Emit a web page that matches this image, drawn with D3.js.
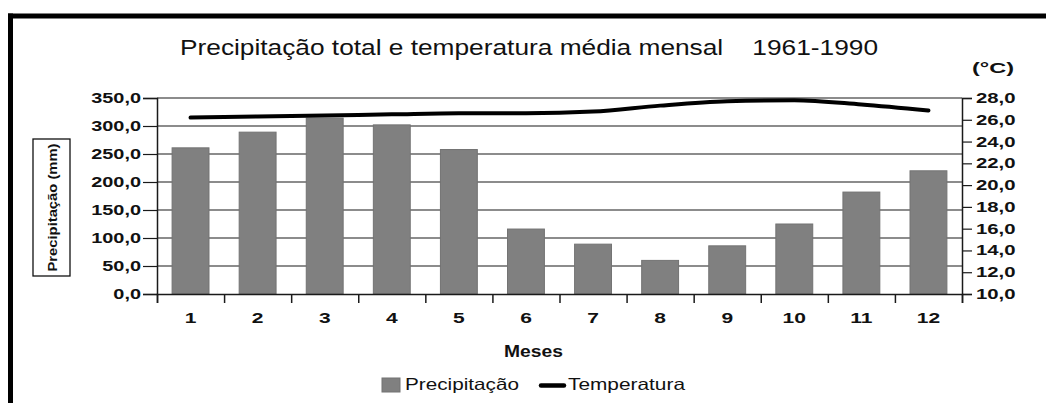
<!DOCTYPE html>
<html><head><meta charset="utf-8">
<script src="https://cdn.jsdelivr.net/npm/d3@7"></script>
<style>
html,body{margin:0;padding:0;background:#fff;}
svg{display:block;font-family:"Liberation Sans",Arial,sans-serif;}
</style></head>
<body><svg id="chart" width="1046" height="403"></svg>
<script>
const months = [1,2,3,4,5,6,7,8,9,10,11,12];
const precipitacao = [261, 289, 314, 302, 258, 116, 89, 60, 86, 125, 182, 220];
const temperatura = [26.2, 26.3, 26.4, 26.5, 26.6, 26.6, 26.75, 27.3, 27.7, 27.8, 27.4, 26.85];
const precTicks = [0,50,100,150,200,250,300,350];
const tempTicks = [10,12,14,16,18,20,22,24,26,28];
const titleText = "Precipitação total e temperatura média mensal\u00a0\u00a0\u00a0\u00a01961-1990";

const svg = d3.select("#chart");
const L = 157, R = 962, T = 98, B = 294;
const FF = "'Liberation Sans', Arial, sans-serif";

const x = d3.scaleBand().domain(months).range([L, R]).paddingInner(0.45).paddingOuter(0.225);
const xb = d3.scaleLinear().domain([0, 12]).range([L, R]);
const yP = d3.scaleLinear().domain([0, 350]).range([B, T]);
const yT = d3.scaleLinear().domain([10, 28]).range([B, T]);
const fmt = v => d3.format(".1f")(v).replace(".", ",");

function stretch(sel, f) {
  sel.each(function(){ const w = this.getComputedTextLength(); this.setAttribute("textLength", w * f); this.setAttribute("lengthAdjust", "spacingAndGlyphs"); });
}

// frame
svg.append("line").attr("x1", 8).attr("x2", 1046).attr("y1", 16).attr("y2", 16).attr("stroke", "#000").attr("stroke-width", 5);
svg.append("line").attr("x1", 10.5).attr("x2", 10.5).attr("y1", 13.5).attr("y2", 403).attr("stroke", "#000").attr("stroke-width", 5);

// title
svg.append("text").attr("x", 180).attr("y", 55).attr("font-size", 22).attr("fill", "#111").attr("font-family", FF)
  .attr("textLength", 698).attr("lengthAdjust", "spacingAndGlyphs").text(titleText);

// gridlines
svg.append("g").selectAll("line").data(precTicks.filter(d => d > 0)).join("line")
  .attr("x1", L).attr("x2", R).attr("y1", d => yP(d)).attr("y2", d => yP(d))
  .attr("stroke", "#1a1a1a").attr("stroke-width", 1.2);

// bars
svg.append("g").selectAll("rect").data(months).join("rect")
  .attr("x", d => x(d)).attr("width", x.bandwidth())
  .attr("y", (d, i) => yP(precipitacao[i])).attr("height", (d, i) => B - yP(precipitacao[i]))
  .attr("fill", "#808080").attr("stroke", "#737373").attr("stroke-width", 1);

// left axis
const gL = svg.append("g").attr("transform", `translate(${L},0)`)
  .call(d3.axisLeft(yP).tickValues(precTicks).tickFormat(fmt).tickSize(14).tickPadding(2));
gL.select(".domain").attr("stroke", "#1a1a1a").attr("stroke-width", 1.5);
gL.selectAll(".tick line").attr("stroke", "#1a1a1a").attr("stroke-width", 1.2);
gL.selectAll("text").attr("font-size", 14).attr("font-weight", "bold").attr("fill", "#111").attr("font-family", FF);
stretch(gL.selectAll("text"), 1.42);

// right axis
const gR = svg.append("g").attr("transform", `translate(${R},0)`)
  .call(d3.axisRight(yT).tickValues(tempTicks).tickFormat(fmt).tickSize(10).tickPadding(4));
gR.select(".domain").attr("stroke", "#1a1a1a").attr("stroke-width", 1.5);
gR.selectAll(".tick line").attr("stroke", "#1a1a1a").attr("stroke-width", 1.2);
gR.selectAll("text").attr("font-size", 14).attr("font-weight", "bold").attr("fill", "#111").attr("font-family", FF);
stretch(gR.selectAll("text"), 1.45);

// bottom axis (boundary ticks)
const gB = svg.append("g").attr("transform", `translate(0,${B})`)
  .call(d3.axisBottom(xb).tickValues(d3.range(0, 13)).tickFormat("").tickSize(9));
gB.select(".domain").attr("stroke", "#1a1a1a").attr("stroke-width", 1.5);
gB.selectAll(".tick line").attr("stroke", "#1a1a1a").attr("stroke-width", 1.5);
const gBl = svg.append("g").attr("transform", `translate(0,${B})`)
  .call(d3.axisBottom(x).tickSize(0).tickPadding(18));
gBl.select(".domain").remove();
gBl.selectAll("text").attr("font-size", 15).attr("font-weight", "bold").attr("fill", "#111").attr("font-family", FF);
stretch(gBl.selectAll("text"), 1.4);

// temperature line
const line = d3.line().x((d, i) => x(months[i]) + x.bandwidth() / 2).y(d => yT(d)).curve(d3.curveMonotoneX);
svg.append("path").datum(temperatura).attr("d", line).attr("fill", "none").attr("stroke", "#000").attr("stroke-width", 4).attr("stroke-linecap", "round");

// axis titles
svg.append("text").attr("x", 972).attr("y", 73).attr("font-size", 15).attr("font-weight", "bold").attr("fill", "#111").attr("font-family", FF)
  .attr("textLength", 42).attr("lengthAdjust", "spacingAndGlyphs").text("(°C)");

svg.append("rect").attr("x", 33).attr("y", 139).attr("width", 37).attr("height", 137).attr("fill", "#fff").attr("stroke", "#111").attr("stroke-width", 1.3);
svg.append("text").attr("transform", "translate(56.5,207.5) rotate(-90)").attr("text-anchor", "middle")
  .attr("font-size", 13).attr("font-weight", "bold").attr("fill", "#111").attr("font-family", FF)
  .attr("textLength", 128).attr("lengthAdjust", "spacingAndGlyphs").text("Precipitação (mm)");

svg.append("text").attr("x", 533.5).attr("y", 357).attr("text-anchor", "middle").attr("font-size", 16.5).attr("font-weight", "bold").attr("fill", "#111").attr("font-family", FF)
  .attr("textLength", 59).attr("lengthAdjust", "spacingAndGlyphs").text("Meses");

// legend
svg.append("rect").attr("x", 382).attr("y", 378).attr("width", 18).attr("height", 14).attr("fill", "#808080").attr("stroke", "#737373");
svg.append("text").attr("x", 405).attr("y", 390).attr("font-size", 16.5).attr("fill", "#111").attr("font-family", FF)
  .attr("textLength", 114).attr("lengthAdjust", "spacingAndGlyphs").text("Precipitação");
svg.append("line").attr("x1", 541).attr("x2", 564).attr("y1", 385.5).attr("y2", 385.5).attr("stroke", "#000").attr("stroke-width", 4.5).attr("stroke-linecap", "round");
svg.append("text").attr("x", 568).attr("y", 390).attr("font-size", 16.5).attr("fill", "#111").attr("font-family", FF)
  .attr("textLength", 117).attr("lengthAdjust", "spacingAndGlyphs").text("Temperatura");
</script></body></html>
